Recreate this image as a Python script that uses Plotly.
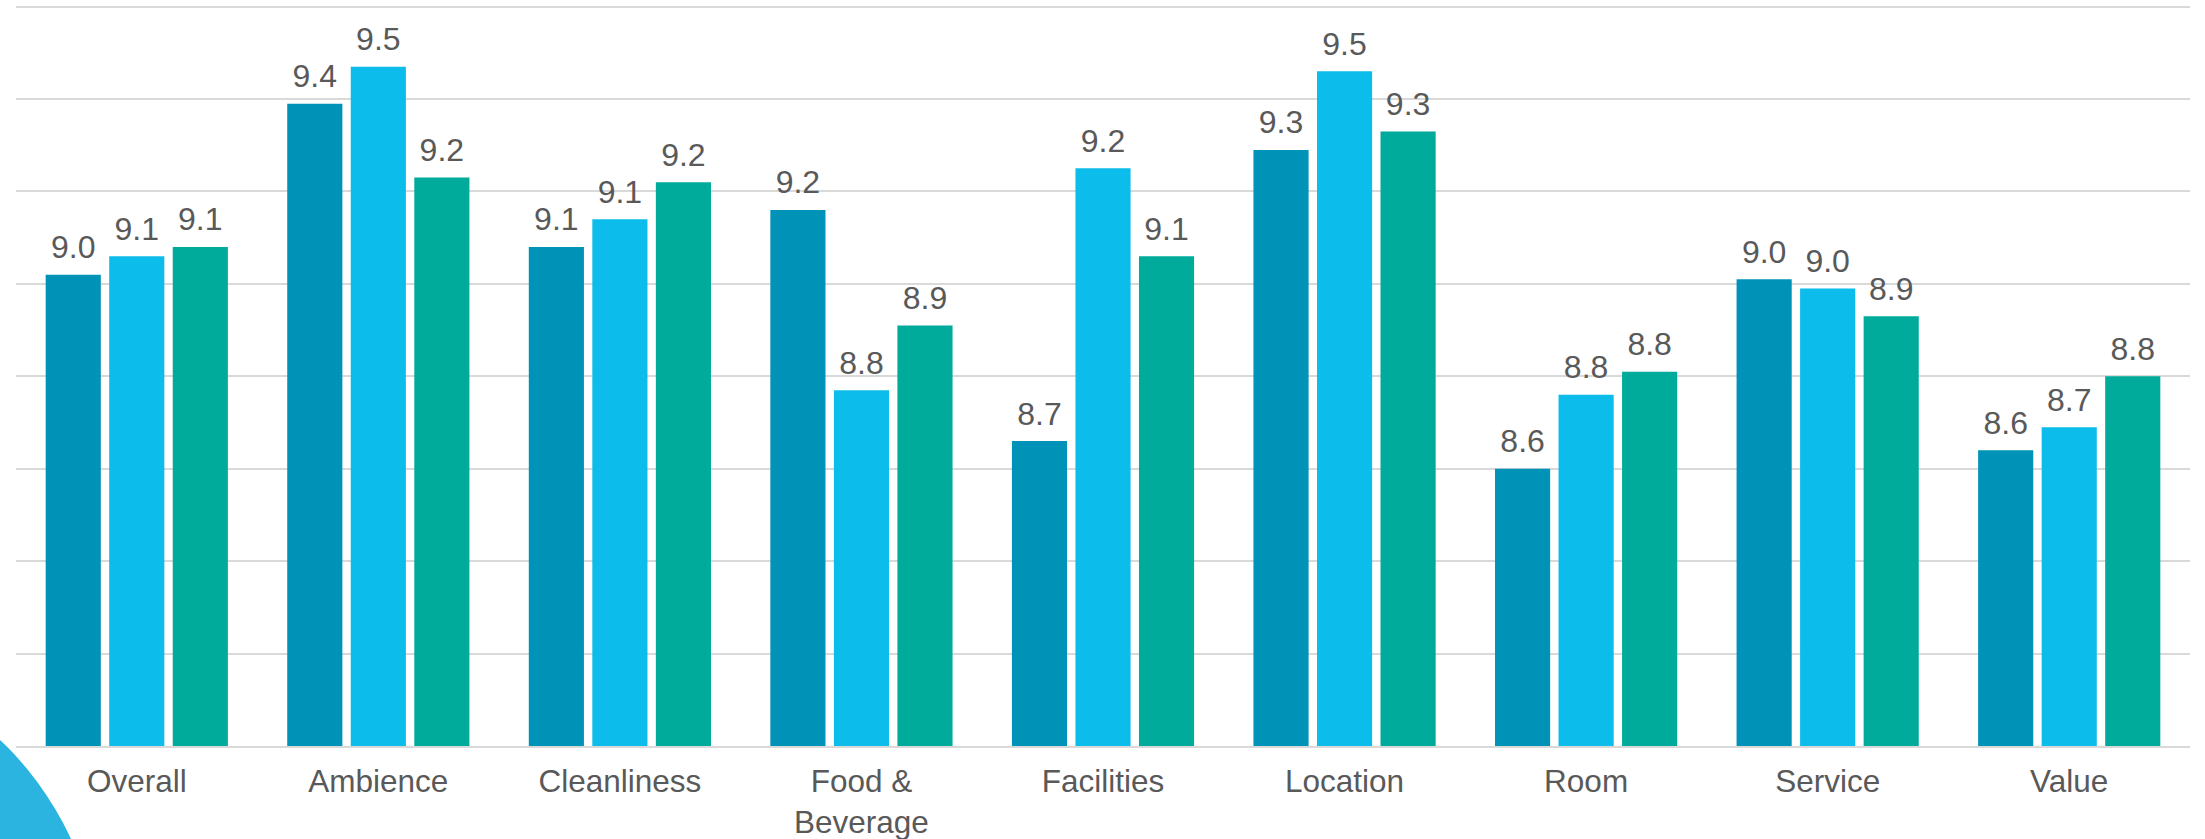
import plotly.graph_objects as go

categories = ["Overall", "Ambience", "Cleanliness", "Food &<br>Beverage", "Facilities",
              "Location", "Room", "Service", "Value"]
series_a = [9.02, 9.39, 9.08, 9.16, 8.66, 9.29, 8.60, 9.01, 8.64]
series_b = [9.06, 9.47, 9.14, 8.77, 9.25, 9.46, 8.76, 8.99, 8.69]
series_c = [9.08, 9.23, 9.22, 8.91, 9.06, 9.33, 8.81, 8.93, 8.80]
series_names = ["Series A", "Series B", "Series C"]
colors = ["#0093B7", "#0CBCEA", "#00AB9C"]

FONT = "Liberation Sans, Arial, sans-serif"
TEXT_COLOR = "#595959"
GAP = 0.211

fig = go.Figure()
for name, vals, col in zip(series_names, [series_a, series_b, series_c], colors):
    fig.add_trace(go.Bar(
        x=categories, y=vals, name=name, offsetgroup=name,
        marker=dict(color=col, line=dict(width=0)),
        showlegend=False,
    ))
for name, vals in zip(series_names, [series_a, series_b, series_c]):
    fig.add_trace(go.Scatter(
        x=categories, y=vals, name=name + " labels", offsetgroup=name,
        mode="markers+text",
        marker=dict(size=12, color="rgba(0,0,0,0)"),
        text=[f"{v:.1f}" for v in vals],
        textposition="top center",
        textfont=dict(family=FONT, size=32, color=TEXT_COLOR),
        cliponaxis=False, hoverinfo="skip", showlegend=False,
    ))

fig.update_layout(
    width=2205, height=839,
    margin=dict(l=16, r=15, t=2, b=93),
    paper_bgcolor="white", plot_bgcolor="white",
    barmode="group", bargap=GAP, bargroupgap=0.132,
    scattermode="group", scattergap=GAP,
    showlegend=False,
    font=dict(family=FONT, size=31.5, color=TEXT_COLOR),
    xaxis=dict(
        showgrid=False, showline=True, linecolor="#D9D9D9", linewidth=2,
        ticks="outside", ticklen=6, tickcolor="rgba(0,0,0,0)",
        tickfont=dict(family=FONT, size=31.5, color=TEXT_COLOR),
        automargin=False,
    ),
    yaxis=dict(
        range=[8.0, 9.61], dtick=0.2, tick0=8.0,
        showgrid=True, gridcolor="#D9D9D9", gridwidth=2,
        showticklabels=False, zeroline=False, showline=False,
        automargin=False,
    ),
)

# decorative circle in the lower-left corner
fig.add_shape(type="circle", xref="paper", yref="paper",
              x0=-0.2562, x1=0.0389, y0=-0.7395, y1=0.1263,
              fillcolor="#2AB4DF", line=dict(width=0), layer="above")

fig.write_html("out.html")
